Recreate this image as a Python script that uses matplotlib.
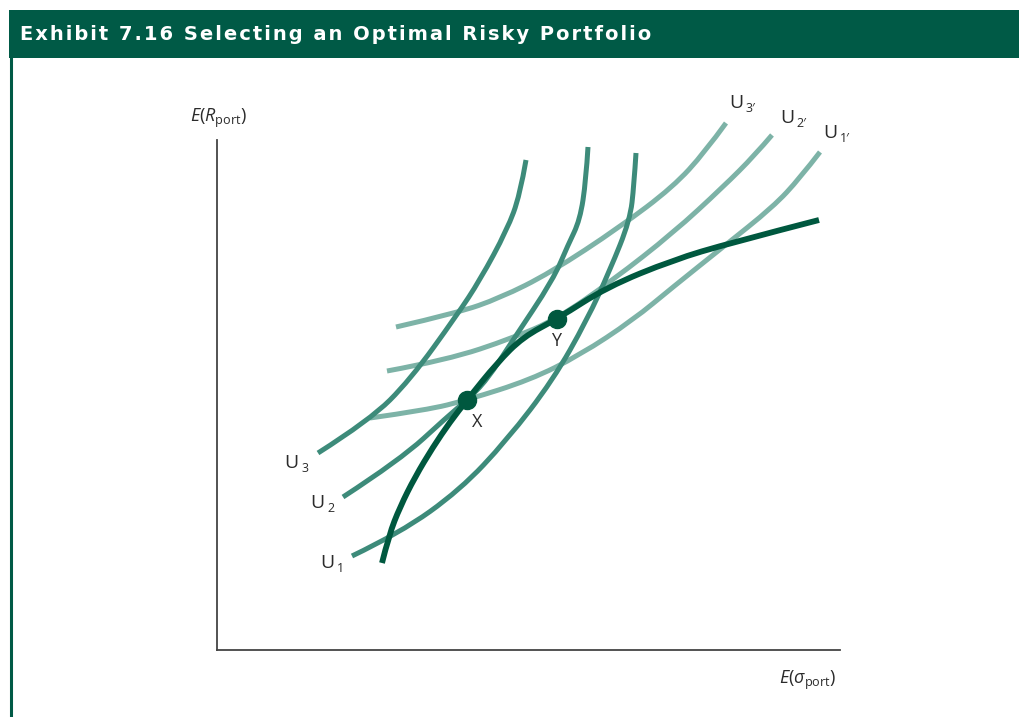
"""Exhibit 7.16: selecting an optimal risky portfolio"""
import matplotlib
matplotlib.use('Agg')
import matplotlib.pyplot as plt
from matplotlib.patches import Rectangle, PathPatch
from matplotlib.path import Path
from matplotlib.lines import Line2D

plt.rcParams.update({
    'font.family': ['Open Sans', 'DejaVu Sans'],
    'mathtext.fontset': 'custom',
    'mathtext.rm': 'Open Sans',
    'mathtext.it': 'Open Sans:italic',
    'mathtext.sf': 'Open Sans',
})

# curves: (risk, return) in chart units, origin at the axes corner
u1_x = [135, 183, 243, 290, 336, 370, 393, 413, 417, 419]
u1_y = [94, 117, 160, 210, 270, 330, 380, 430, 465, 497]
u2_x = [126, 183, 230, 250, 270, 296, 336, 351, 363, 369, 371]
u2_y = [153, 190, 233, 250, 270, 310, 370, 405, 430, 470, 503]
u3_x = [101, 153, 193, 240, 263, 290, 303, 309]
u3_y = [197, 230, 270, 335, 370, 420, 455, 490]

u1p_x = [153, 210, 250, 313, 363, 416, 456, 506, 556, 583, 603]
u1p_y = [232, 240, 250, 270, 295, 330, 363, 403, 443, 472, 498]
u2p_x = [170, 230, 296, 340, 396, 456, 506, 538, 555]
u2p_y = [279, 290, 312, 331, 370, 417, 463, 495, 515]
u3p_x = [179, 240, 283, 333, 403, 456, 488, 509]
u3p_y = [323, 337, 352, 377, 423, 463, 498, 527]

front_x = [165, 172, 183, 198, 216, 233, 250, 280, 306, 340, 390, 456, 513, 602]
front_y = [87, 115, 143, 173, 203, 228, 250, 287, 313, 331, 363, 390, 407, 430]

point_names = ['X', 'Y']
point_x = [250, 340]
point_y = [250, 331]
point_lab_dx = [7, -1]

steep_labels = ['1', '2', '3']
steep_lab_x = [110, 100, 74]
steep_lab_y = [87, 147, 187]
flat_labels = ['1\u2032', '2\u2032', '3\u2032']
flat_lab_x = [613, 570, 519]
flat_lab_y = [517, 532, 547]

HEADER = '#005a46'
STEEP = '#3d8b7a'
FLAT = '#7db3a7'
FRONT = '#00583f'
TXT = '#2b2b2b'

fig = plt.figure(figsize=(10.19, 7.17), dpi=100)

# header bar + left rule
fig.patches.append(Rectangle((9/1019, 1 - 58/717), 1 - 9/1019, 48/717,
                             transform=fig.transFigure, facecolor=HEADER,
                             edgecolor='none', zorder=0))
fig.lines.append(Line2D([10.5/1019, 10.5/1019], [0, 1 - 58/717],
                        transform=fig.transFigure, color=HEADER, lw=2.2))
title = 'Exhibit 7.16 Selecting an Optimal Risky Portfolio'
fig.text(20/1019, 1 - 34/717, '\u200a'.join(title),
         color='white', fontsize=14, fontweight='bold', family='DejaVu Sans',
         ha='left', va='center')

ax = fig.add_axes([217/1019, 67/717, 623/1019, 510/717])
ax.set_xlim(0, 623)
ax.set_ylim(0, 510)
ax.set_xticks([]); ax.set_yticks([])
for s in ['top', 'right']:
    ax.spines[s].set_visible(False)
for s in ['left', 'bottom']:
    ax.spines[s].set_color('#444444')
    ax.spines[s].set_linewidth(1.3)


def smooth_curve(xs, ys, color, lw, z):
    """quadratic bezier through the midpoints of the read points"""
    pts = list(zip(xs, ys))
    verts = [pts[0]]
    codes = [Path.MOVETO]
    for i in range(1, len(pts) - 1):
        mid = ((pts[i][0] + pts[i+1][0]) / 2, (pts[i][1] + pts[i+1][1]) / 2)
        if i == len(pts) - 2:
            mid = pts[-1]
        verts += [pts[i], mid]
        codes += [Path.CURVE3, Path.CURVE3]
    ax.add_patch(PathPatch(Path(verts, codes), facecolor='none', edgecolor=color,
                           lw=lw, capstyle='butt', joinstyle='round',
                           clip_on=False, zorder=z))


for xs, ys in [(u3p_x, u3p_y), (u2p_x, u2p_y), (u1p_x, u1p_y)]:
    smooth_curve(xs, ys, FLAT, 3.6, 2)
for xs, ys in [(u3_x, u3_y), (u2_x, u2_y), (u1_x, u1_y)]:
    smooth_curve(xs, ys, STEEP, 3.6, 3)
smooth_curve(front_x, front_y, FRONT, 4.2, 4)
ax.plot(point_x, point_y, 'o', color=FRONT, ms=13, clip_on=False, zorder=5)

for name, x, y, dx in zip(point_names, point_x, point_y, point_lab_dx):
    ax.annotate(name, xy=(x, y), xytext=(dx, -16), textcoords='offset points',
                ha='center', va='center', fontsize=13, color=TXT,
                annotation_clip=False)


def u_label(x, y, sub):
    ax.text(x, y, 'U', ha='center', va='center', fontsize=14, color=TXT,
            clip_on=False)
    ax.annotate(sub, xy=(x, y), xytext=(10 if len(sub) == 1 else 7, -4),
                textcoords='offset points',
                ha='left' if len(sub) > 1 else 'center', va='center',
                fontsize=9, color=TXT, annotation_clip=False)


for sub, x, y in zip(steep_labels, steep_lab_x, steep_lab_y):
    u_label(x, y, sub)
for sub, x, y in zip(flat_labels, flat_lab_x, flat_lab_y):
    u_label(x, y, sub)

ax.text(1, 532, r'$E(R_{\mathrm{port}})$', ha='center', va='center',
        fontsize=13, color=TXT, clip_on=False)
ax.text(591, -30, r'$E(\sigma_{\mathrm{port}})$', ha='center', va='center',
        fontsize=13, color=TXT, clip_on=False)

plt.savefig('out.png', dpi=100, facecolor='white')
plt.close()
